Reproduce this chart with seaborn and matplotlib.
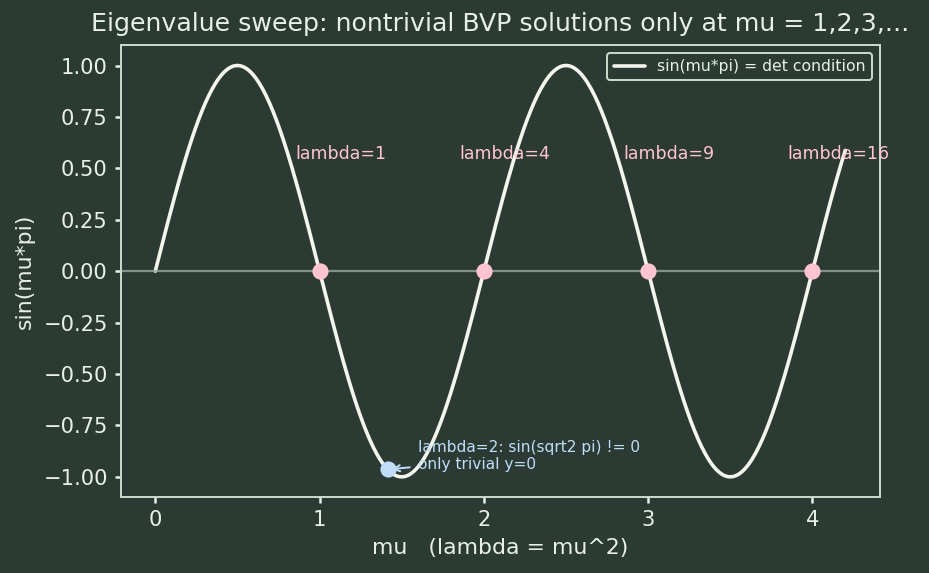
import numpy as np
import matplotlib
matplotlib.use('Agg')
import matplotlib.pyplot as plt
import seaborn as sns

# sweep range of mu and the eigenvalue points
mu_start = 0.0
mu_end = 4.2
eigen_mu = [1, 2, 3, 4]
eigen_labels = ['lambda=1', 'lambda=4', 'lambda=9', 'lambda=16']
trivial_mu = np.sqrt(2)

bg = '#2b3b34'
fg = '#e8efe6'
curve_color = '#f4f6ec'
pink = '#ffc4d0'
blue = '#c0dcf8'

sns.set_theme(style='dark')
plt.rcParams.update({
    'figure.facecolor': bg,
    'axes.facecolor': bg,
    'axes.edgecolor': '#c8d8c8',
    'axes.labelcolor': fg,
    'xtick.color': fg,
    'ytick.color': fg,
    'text.color': fg,
    'axes.grid': False,
})
plt.rcParams['font.family'] = ['DejaVu Sans']

mu = np.linspace(mu_start, mu_end, 400)
det = np.sin(mu * np.pi)

fig, ax = plt.subplots(figsize=(929 / 144, 573 / 144), dpi=144)
sns.lineplot(x=mu, y=det, ax=ax, color=curve_color, linewidth=1.8,
             label='sin(mu*pi) = det condition')
ax.axhline(0, color='#9aaa9f', linewidth=1.1, alpha=0.8)

eig_y = np.sin(np.array(eigen_mu) * np.pi)
ax.scatter(eigen_mu, eig_y, color=pink, s=50, zorder=5)
for m, lab in zip(eigen_mu, eigen_labels):
    ax.text(m - 0.15, 0.57, lab, color=pink, fontsize=8.7, ha='left', va='center')

ty = np.sin(trivial_mu * np.pi)
ax.scatter([trivial_mu], [ty], color=blue, s=50, zorder=5)
ax.annotate('lambda=2: sin(sqrt2 pi) != 0\nonly trivial y=0',
            xy=(trivial_mu, ty), xytext=(1.6, -0.9),
            color=blue, fontsize=7.7, va='center',
            arrowprops=dict(arrowstyle='->', color=blue, lw=1))

ax.set_title('Eigenvalue sweep: nontrivial BVP solutions only at mu = 1,2,3,...',
             color=fg, fontsize=12.6, pad=7)
ax.set_xlabel('mu   (lambda = mu^2)', fontsize=11)
ax.set_ylabel('sin(mu*pi)', fontsize=11)
ax.tick_params(axis='both', labelsize=10.5, length=3, bottom=True, left=True)
for s in ax.spines.values():
    s.set_linewidth(1.0)

leg = ax.legend(loc='upper right', fontsize=7.8, facecolor=bg,
                edgecolor='#c8d8c8', framealpha=1)
for t in leg.get_texts():
    t.set_color(fg)

fig.subplots_adjust(left=0.13, right=0.947, top=0.9215, bottom=0.132)
fig.savefig('out.png', dpi=144, facecolor=bg)
